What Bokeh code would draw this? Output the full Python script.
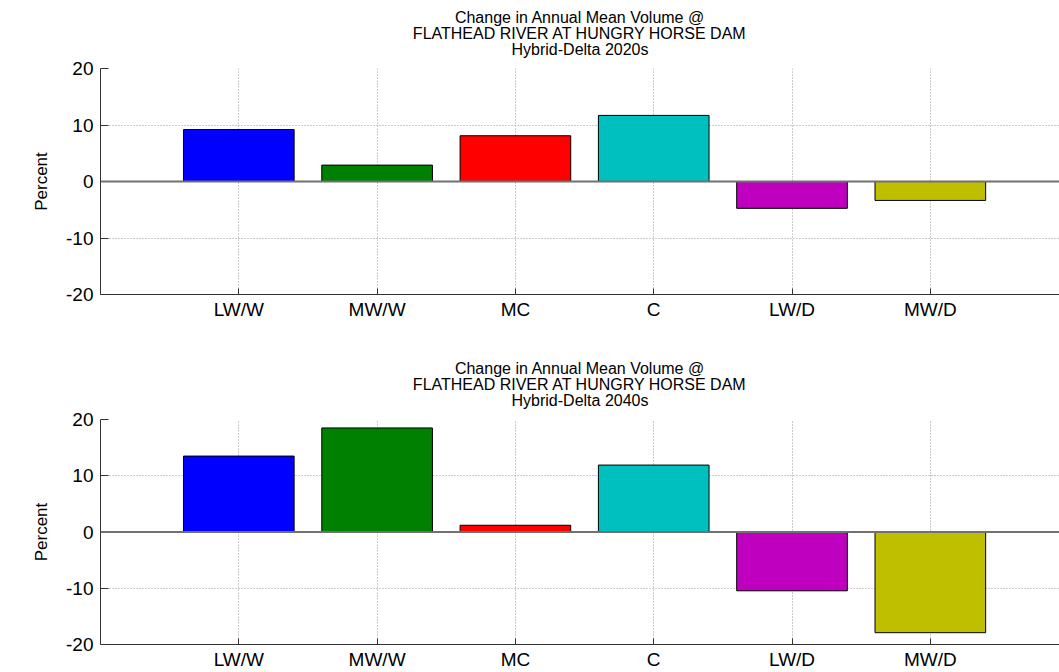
from bokeh.plotting import figure
from bokeh.models import FixedTicker, Span, ColumnDataSource, Title
from bokeh.layouts import column
from bokeh.embed import file_html
from bokeh.resources import INLINE

categories = ["LW/W", "MW/W", "MC", "C", "LW/D", "MW/D"]
positions = [1, 2, 3, 4, 5, 6]
bar_colors = ["#0000FF", "#008000", "#FF0000", "#00BFBF", "#BF00BF", "#BFBF00"]
pct_2020s = [9.2, 2.9, 8.1, 11.7, -4.75, -3.35]
pct_2040s = [13.5, 18.5, 1.2, 11.9, -10.45, -17.9]
y_ticks = [-20, -10, 0, 10, 20]
y_tick_labels = ["-20", "-10", "0", "10", "20"]
title_lines = ["Change in Annual Mean Volume @", "FLATHEAD RIVER AT HUNGRY HORSE DAM"]
subtitles = ["Hybrid-Delta 2020s", "Hybrid-Delta 2040s"]

FONT = "Liberation Sans"


def add_title_line(p, text, standoff, valign):
    t = Title(text=text, align="center", vertical_align=valign, text_font=FONT,
              text_font_size="16px", text_font_style="normal", text_color="black",
              standoff=standoff)
    p.add_layout(t, "above")


def make_panel(values, subtitle, height, border_bottom):
    p = figure(width=1059, height=height, x_range=(0, 6.934), y_range=(-20, 20),
               output_backend="svg", toolbar_location=None, title=None,
               min_border_left=100, min_border_right=0, min_border_top=68,
               min_border_bottom=border_bottom)
    p.outline_line_color = None
    p.background_fill_color = "white"
    p.border_fill_color = "white"

    add_title_line(p, subtitle, 17.2, "top")
    add_title_line(p, title_lines[1], -19, "bottom")
    add_title_line(p, title_lines[0], 9.2, "top")

    src = ColumnDataSource(dict(x=positions, top=values, color=bar_colors, cat=categories))
    p.vbar(x="x", top="top", bottom=0, width=0.8, fill_color="color",
           line_color="black", line_width=1, source=src)

    p.add_layout(Span(location=0, dimension="width", line_color="#707070", line_width=2))

    p.xaxis.ticker = FixedTicker(ticks=positions)
    p.xaxis.major_label_overrides = {pos: cat for pos, cat in zip(positions, categories)}
    p.yaxis.ticker = FixedTicker(ticks=y_ticks)
    p.yaxis.major_label_overrides = {t: lab for t, lab in zip(y_ticks, y_tick_labels)}
    p.xgrid.ticker = FixedTicker(ticks=positions)
    p.ygrid.ticker = FixedTicker(ticks=y_ticks)
    for g in (p.xgrid, p.ygrid):
        g.grid_line_color = "#999999"
        g.grid_line_dash = "1 2"
        g.grid_line_width = 1

    for ax in (p.xaxis, p.yaxis):
        ax.axis_line_color = "#333333"
        ax.axis_line_width = 1
        ax.major_tick_line_color = "#333333"
        ax.major_tick_out = 0
        ax.minor_tick_line_color = None
        ax.major_label_text_font = FONT
        ax.major_label_text_font_size = "19px"
        ax.major_label_text_color = "black"
    p.xaxis.major_tick_in = 6
    p.yaxis.major_tick_in = 8
    p.xaxis.major_label_standoff = 4
    p.yaxis.major_label_standoff = 7

    p.yaxis.axis_label = "Percent"
    p.yaxis.axis_label_text_font = FONT
    p.yaxis.axis_label_text_font_size = "17px"
    p.yaxis.axis_label_text_font_style = "normal"
    p.yaxis.axis_label_text_color = "black"
    p.yaxis.axis_label_standoff = 12
    return p


p1 = make_panel(pct_2020s, subtitles[0], 351, 57)
p2 = make_panel(pct_2040s, subtitles[1], 321, 27)
layout = column(p1, p2, spacing=0)

open("out.html", "w").write(file_html(layout, INLINE))
